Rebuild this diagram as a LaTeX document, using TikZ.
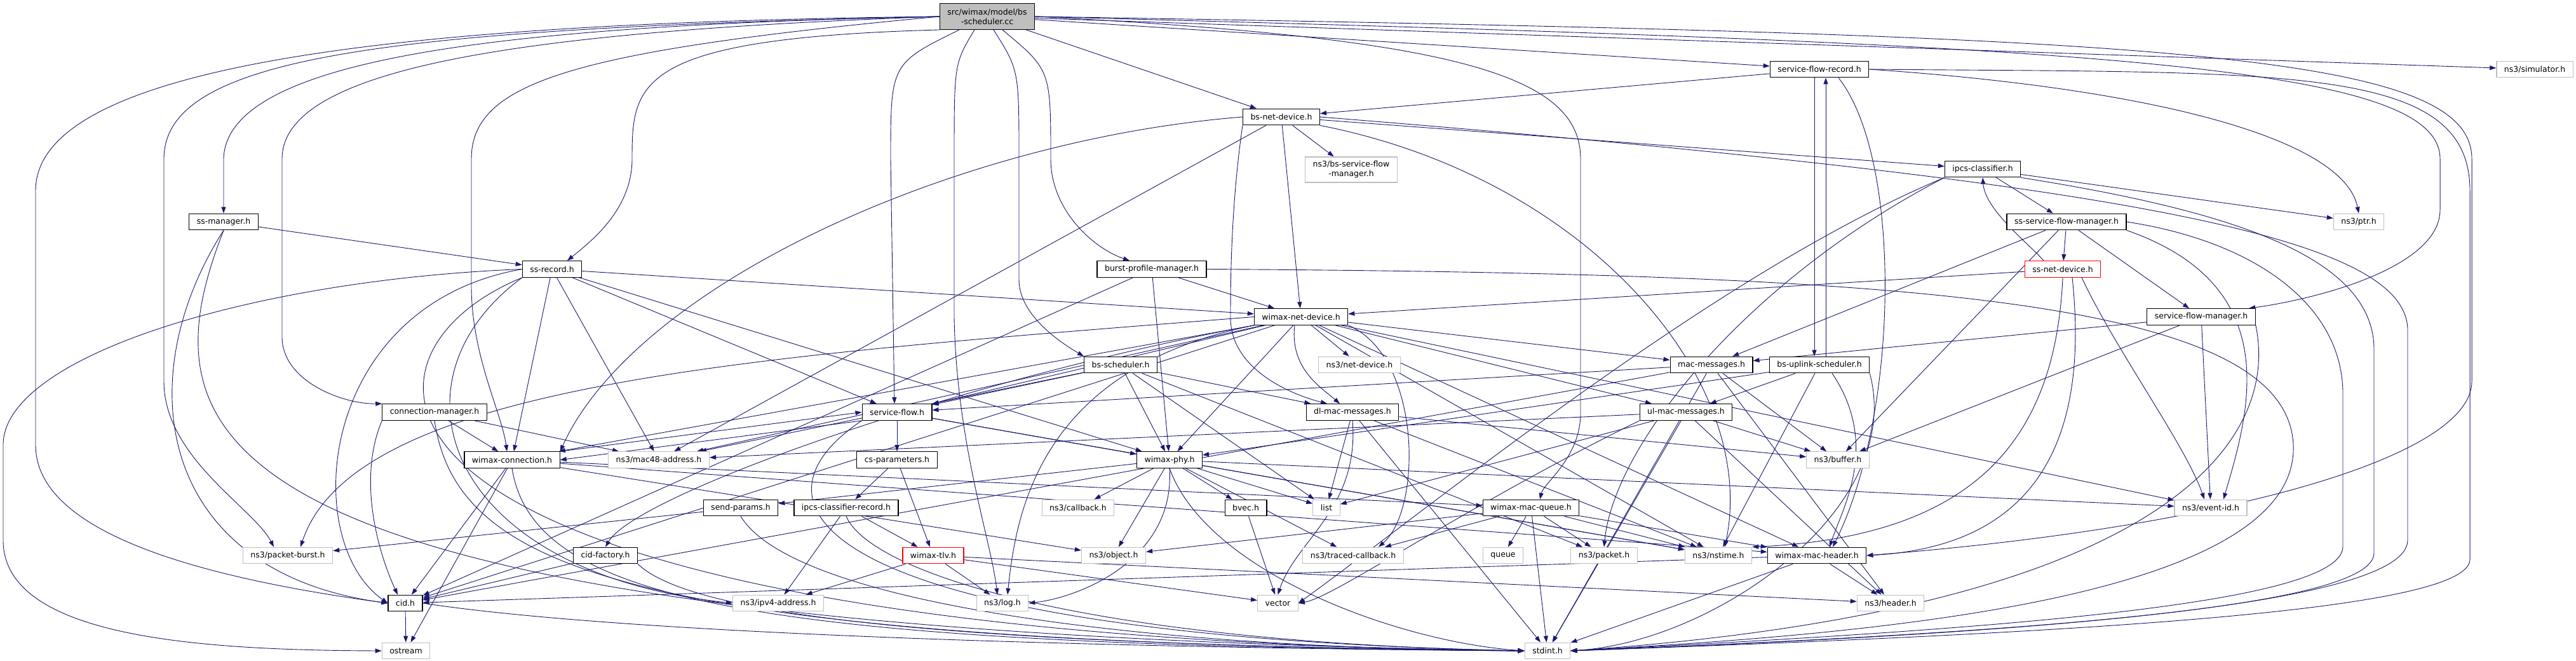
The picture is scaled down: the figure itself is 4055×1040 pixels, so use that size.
\documentclass[tikz,border=0pt]{standalone}
\usepackage{fontspec}
\setmainfont{DejaVu Sans}
\usetikzlibrary{arrows.meta,backgrounds}
\definecolor{edgeblue}{HTML}{191970}
\definecolor{extgray}{HTML}{BFBFBF}
\tikzset{
  file/.style={draw=black, line width=1.2pt, fill=white, font=\fontsize{12.5}{15}\selectfont,
    inner xsep=12pt, inner ysep=0pt, minimum height=25.6pt},
  extfile/.style={file, draw=extgray},
  truncfile/.style={file, draw=red},
  rootfile/.style={file, fill=extgray, align=center, minimum height=40.7pt},
  dep/.style={draw=edgeblue, line width=0.9pt, -{Triangle[length=10pt,width=7pt]}},
}
\begin{document}
\begin{tikzpicture}[x=1pt,y=-1pt]
        \useasboundingbox (0,0) rectangle (4055,1040);

        % nodes
        \node (root) [rootfile] at (1554,26) {src/wimax/model/bs\\-scheduler.cc};
        \node (sfrec) [file] at (2864,109) {service-flow-record.h};
        \node (sim) [extfile] at (3990,109) {ns3/simulator.h};
        \node (bsnd) [file] at (2017,184) {bs-net-device.h};
        \node (bssfm) [extfile, align=center, minimum height=40pt] at (2127,267) {ns3/bs-service-flow\\-manager.h};
        \node (ipcs) [file] at (3121,266) {ipcs-classifier.h};
        \node (ssmgr) [file] at (352,349) {ss-manager.h};
        \node (sssfm) [file] at (3253,349) {ss-service-flow-manager.h};
        \node (ptr) [extfile] at (3713,349) {ns3/ptr.h};
        \node (ssrec) [file] at (869,423.5) {ss-record.h};
        \node (bpm) [file] at (1813,423.5) {burst-profile-manager.h};
        \node (ssnd) [truncfile] at (3247,423.5) {ss-net-device.h};
        \node (wnd) [file] at (2048,498.5) {wimax-net-device.h};
        \node (sfmgr) [file] at (3465,498.5) {service-flow-manager.h};
        \node (bsched) [file] at (1764,574) {bs-scheduler.h};
        \node (nd) [extfile] at (2140,574) {ns3/net-device.h};
        \node (macmsg) [file] at (2694,574) {mac-messages.h};
        \node (bsup) [file] at (2864,574) {bs-uplink-scheduler.h};
        \node (conmgr) [file] at (684,648.5) {connection-manager.h};
        \node (sflow) [file] at (1412,648.5) {service-flow.h};
        \node (dlmac) [file] at (2129,648.5) {dl-mac-messages.h};
        \node (ulmac) [file] at (2654,648.5) {ul-mac-messages.h};
        \node (wcon) [file] at (806,723.6) {wimax-connection.h};
        \node (mac48) [extfile] at (1037,723.6) {ns3/mac48-address.h};
        \node (cspar) [file] at (1412,723.6) {cs-parameters.h};
        \node (wphy) [file] at (1841,723.6) {wimax-phy.h};
        \node (buffer) [extfile] at (2893,723.6) {ns3/buffer.h};
        \node (sendp) [file] at (1166,799) {send-params.h};
        \node (ipcscr) [file] at (1332,799) {ipcs-classifier-record.h};
        \node (callback) [extfile] at (1697,799) {ns3/callback.h};
        \node (bvec) [file] at (1961,799) {bvec.h};
        \node (list) [extfile] at (2088,799) {list};
        \node (wmq) [file] at (2410,799) {wimax-mac-queue.h};
        \node (eventid) [extfile] at (3480,799) {ns3/event-id.h};
        \node (pburst) [extfile] at (453,874) {ns3/packet-burst.h};
        \node (cidf) [file] at (953,874) {cid-factory.h};
        \node (wtlv) [truncfile] at (1469,874) {wimax-tlv.h};
        \node (object) [extfile] at (1753,874) {ns3/object.h};
        \node (tracedcb) [extfile] at (2130,874) {ns3/traced-callback.h};
        \node (queue) [extfile] at (2366,874) {queue};
        \node (packet) [extfile] at (2525,874) {ns3/packet.h};
        \node (nstime) [extfile] at (2705,874) {ns3/nstime.h};
        \node (wmh) [file] at (2860,874) {wimax-mac-header.h};
        \node (cid) [file] at (638,949) {cid.h};
        \node (ipv4) [extfile] at (1225,949) {ns3/ipv4-address.h};
        \node (log) [extfile] at (1578,949) {ns3/log.h};
        \node (vector) [extfile] at (2011.5,949) {vector};
        \node (header) [extfile] at (2976,949) {ns3/header.h};
        \node (ostream) [extfile] at (639,1024) {ostream};
        \node (stdint) [extfile] at (2436,1024) {stdint.h};

        \begin{pgfonlayer}{background}
        \fill[white] (0,0) rectangle (4055,1040);

        % edges from the source file
        \draw[dep] (root.west) .. controls (700,35) and (56,90) .. (56,300) -- (56,700) .. controls (56,820) and (250,900) .. (cid.west);
        \draw[dep] (root.west) .. controls (600,45) and (258,90) .. (258,250) -- (258,600) .. controls (258,720) and (400,800) .. ([xshift=-22pt]pburst.north);
        \draw[dep] (root.west) .. controls (800,40) and (356,90) .. (352,250) -- (ssmgr.north);
        \draw[dep] (root.west) .. controls (800,50) and (444,110) .. (444,250) -- (444,530) .. controls (444,600) and (540,636) .. (conmgr.north west);
        \draw[dep] (root.west) .. controls (900,80) and (742,130) .. (742,250) -- (742,450) .. controls (742,560) and (790,650) .. ([xshift=-8pt]wcon.north);
        \draw[dep] (root.south west) .. controls (1000,60) and (995,130) .. (995,250) .. controls (995,330) and (930,380) .. ([xshift=24pt]ssrec.north);
        \draw[dep] ([xshift=-44pt]root.south) .. controls (1402,100) .. (1402,250) -- ([xshift=-4pt]sflow.north);
        \draw[dep] ([xshift=-20pt]root.south) .. controls (1502,100) .. (1502,250) -- (1502,500) .. controls (1506,700) and (1560,850) .. ([xshift=-8pt]log.north);
        \draw[dep] ([xshift=10pt]root.south) .. controls (1604,110) .. (1604,250) -- (1604,440) .. controls (1604,500) and (1680,545) .. (bsched.north west);
        \draw[dep] ([xshift=24pt]root.south) .. controls (1654,110) .. (1654,250) .. controls (1654,330) and (1720,390) .. ([xshift=-35pt]bpm.north);
        \draw[dep] (root) -- (bsnd);
        \draw[dep] (root) -- (sfrec);
        \draw[dep] (root) -- (sim);
        \draw[dep] (root.east) .. controls (2300,60) and (2488,120) .. (2488,250) -- (2488,650) .. controls (2488,720) and (2430,760) .. ([xshift=14pt]wmq.north);
        \draw[dep] (root.east) .. controls (3300,70) and (3841,100) .. (3841,250) -- (3841,330) .. controls (3841,420) and (3650,470) .. ([xshift=75pt]sfmgr.north);
        \draw[dep] (root.east) .. controls (3400,55) and (3891,80) .. (3891,250) -- (3891,600) .. controls (3891,720) and (3500,830) .. (wmh.east);

        % upper headers
        \draw[dep] (sfrec) -- (bsnd);
        \draw[dep] ([xshift=-8pt]sfrec.south) -- ([xshift=-8pt]bsup.north);
        \draw[dep] ([xshift=10pt]bsup.north) -- ([xshift=10pt]sfrec.south);
        \draw[dep] ([xshift=30pt]sfrec.south) .. controls (2995,250) and (2990,650) .. ([xshift=25pt]wmh.north);
        \draw[dep] (sfrec.east) .. controls (3400,140) and (3690,220) .. (ptr.north);
        \draw[dep] (sfrec.east) .. controls (3600,115) and (3888,100) .. (3888,300) -- (3888,880) .. controls (3888,960) and (3300,995) .. (stdint.east);

        \draw[dep] (bsnd) -- (wnd);
        \draw[dep] (bsnd) -- (bssfm);
        \draw[dep] (bsnd) -- (ipcs);
        \draw[dep] (bsnd.south west) .. controls (1937,330) and (1937,450) .. (1937,500) .. controls (1937,580) and (2030,620) .. ([xshift=-40pt]dlmac.north);
        \draw[dep] (bsnd.south east) .. controls (2500,280) and (2770,600) .. ([xshift=10pt]nstime.north);
        \draw[dep] (bsnd) -- (mac48);
        \draw[dep] (bsnd.west) .. controls (1500,220) and (1000,450) .. (wcon.north east);
        \draw[dep] (bsnd.east) .. controls (3400,290) and (3790,380) .. (3790,520) -- (3790,850) .. controls (3790,960) and (3100,1000) .. (stdint.east);

        \draw[dep] (ipcs) -- (ptr);
        \draw[dep] (ipcs) -- (sssfm);
        \draw[dep] (ipcs.south west) .. controls (2700,430) and (2250,800) .. (vector.east);
        \draw[dep] (ipcs.south west) .. controls (2750,440) and (2540,700) .. (packet.north);
        \draw[dep] (ipcs.south east) .. controls (3500,330) and (3737,400) .. (3737,550) -- (3737,870) .. controls (3737,955) and (3200,995) .. (stdint.east);

        \draw[dep] (sssfm) -- (ssnd);
        \draw[dep] (sssfm) -- (sfmgr);
        \draw[dep] (sssfm) -- (macmsg);
        \draw[dep] (sssfm) -- (buffer);
        \draw[dep] (sssfm.south east) .. controls (3600,450) and (3540,650) .. ([xshift=20pt]eventid.north);
        \draw[dep] (sssfm.east) .. controls (3550,380) and (3688,480) .. (3688,620) -- (3688,860) .. controls (3688,950) and (3150,990) .. (stdint.east);

        \draw[dep] ([xshift=-30pt]ssnd.north) .. controls (3190,380) and (3125,330) .. (ipcs.south);
        \draw[dep] (ssnd) -- (wnd);
        \draw[dep] ([xshift=30pt]ssnd.south) .. controls (3330,550) and (3440,700) .. ([xshift=-10pt]eventid.north);
        \draw[dep] (ssnd.south) .. controls (3235,700) and (3100,845) .. (nstime.north east);
        \draw[dep] ([xshift=15pt]ssnd.south) .. controls (3290,700) and (3200,860) .. (wmh.east);

        \draw[dep] (sfmgr) -- (macmsg);
        \draw[dep] (sfmgr) -- (buffer);
        \draw[dep] (sfmgr) -- (eventid);
        \draw[dep] (sfmgr.south east) .. controls (3590,700) and (3400,960) .. (stdint.east);

        \draw[dep] (ssmgr) -- (ssrec);
        \draw[dep] (ssmgr.south) .. controls (200,600) and (250,900) .. (cid.west);
        \draw[dep] (ssmgr.south) .. controls (220,700) and (300,990) .. (stdint.west);

        \draw[dep] (ssrec) -- (wnd);
        \draw[dep] (ssrec.west) .. controls (400,440) and (5,560) .. (5,700) -- (5,850) .. controls (5,1000) and (300,1023) .. (ostream.west);
        \draw[dep] (ssrec.west) .. controls (500,480) and (470,850) .. (cid.west);
        \draw[dep] (ssrec.south west) .. controls (520,560) and (480,1000) .. (stdint.west);
        \draw[dep] (ssrec) -- (wcon);
        \draw[dep] (ssrec) -- (mac48);
        \draw[dep] (ssrec) -- (sflow);
        \draw[dep] (ssrec) -- (wphy);
        \draw[dep] (ssrec.south west) .. controls (600,600) and (700,900) .. (ipv4.west);

        \draw[dep] (bpm) -- (wnd);
        \draw[dep] (bpm) -- (wphy);
        \draw[dep] (bpm) -- (cid);
        \draw[dep] (bpm.east) .. controls (3000,430) and (3600,470) .. (3610,700) .. controls (3620,950) and (2900,1000) .. (stdint.east);

        % middle headers
        \draw[dep] (wnd) -- (nd);
        \draw[dep] ([xshift=-10pt]wnd.south) .. controls (2030,580) and (2080,610) .. ([xshift=-20pt]dlmac.north);
        \draw[dep] (wnd) -- (ulmac);
        \draw[dep] (wnd) -- (macmsg);
        \draw[dep] (wnd) -- (wphy);
        \draw[dep] (wnd) -- (wcon);
        \draw[dep] (wnd) -- (mac48);
        \draw[dep] (wnd) -- (sflow);
        \draw[dep] (wnd) -- (cid);
        \draw[dep] (wnd.south west) .. controls (1500,600) and (1000,780) .. (cidf.north);
        \draw[dep] (wnd.west) .. controls (1200,560) and (560,600) .. ([xshift=20pt]pburst.north);
        \draw[dep] (wnd.south west) .. controls (1640,580) and (1600,800) .. ([xshift=8pt]log.north);
        \draw[dep] (wnd.south east) .. controls (2237,560) and (2240,800) .. ([xshift=40pt]tracedcb.north);
        \draw[dep] (wnd) -- (nstime);
        \draw[dep] (wnd) -- (eventid);
        \draw[dep] (wnd) -- (wmh);

        \draw[dep] (bsched) -- (wphy);
        \draw[dep] (bsched) -- (sflow);
        \draw[dep] (bsched) -- (dlmac);
        \draw[dep] (bsched) -- (list);
        \draw[dep] (bsched) -- (packet);
        \draw[dep] (bsched) -- (mac48);

        \draw[dep] (macmsg) -- (sflow);
        \draw[dep] (macmsg) -- (buffer);
        \draw[dep] (macmsg) -- (header);
        \draw[dep] (macmsg) -- (stdint);
        \draw[dep] (macmsg) -- (cid);

        \draw[dep] (bsup) -- (ulmac);
        \draw[dep] (bsup) -- (wphy);
        \draw[dep] ([xshift=20pt]bsup.south) .. controls (2960,700) and (2900,800) .. ([xshift=20pt]wmh.north);
        \draw[dep] (bsup) -- (nstime);
        \draw[dep] (bsup.south east) .. controls (3000,800) and (2700,1010) .. (stdint.east);

        \draw[dep] (conmgr) -- (wcon);
        \draw[dep] (conmgr.south west) .. controls (560,760) and (600,880) .. ([xshift=-12pt]cid.north);
        \draw[dep] (conmgr.south) .. controls (720,900) and (1000,1010) .. (stdint.west);
        \draw[dep] (conmgr) -- (mac48);

        \draw[dep] (sflow.south west) -- (wcon.east);
        \draw[dep] (sflow) -- (cspar);
        \draw[dep] (sflow) -- (wphy);
        \draw[dep] (sflow.south west) .. controls (1150,800) and (1300,1000) .. (stdint.west);
        \draw[dep] (sflow) -- (nstime);

        \draw[dep] (dlmac) -- (list);
        \draw[dep] (dlmac.south) .. controls (2140,800) and (2040,850) .. (vector.north);
        \draw[dep] (dlmac) -- (stdint);
        \draw[dep] (dlmac) -- (buffer);
        \draw[dep] (dlmac) -- (nstime);

        \draw[dep] (ulmac) -- (list);
        \draw[dep] (ulmac.south west) .. controls (2300,800) and (2100,940) .. (vector.east);
        \draw[dep] (ulmac) -- (stdint);
        \draw[dep] (ulmac) -- (buffer);
        \draw[dep] (ulmac) -- (header);
        \draw[dep] (ulmac) -- (mac48);

        % lower headers
        \draw[dep] (wcon) -- (cid);
        \draw[dep] (wcon) -- (ostream);
        \draw[dep] (wcon.south) .. controls (840,950) and (1200,1015) .. (stdint.west);
        \draw[dep] (wcon) -- (wmq);
        \draw[dep] (wcon) -- (object);
        \draw[dep] (wcon.north east) -- (sflow.west);
        \draw[dep] (wcon) -- (wmh);

        \draw[dep] (cspar) -- (ipcscr);
        \draw[dep] (cspar) -- (wtlv);
        \draw[dep] (ipcscr) -- (ipv4);
        \draw[dep] (ipcscr) -- (wtlv);
        \draw[dep] (ipcscr.south) .. controls (1370,900) and (1700,1010) .. (stdint.west);
        \draw[dep] (wtlv) -- (ipv4);
        \draw[dep] (wtlv) -- (log);
        \draw[dep] (wtlv) -- (vector);
        \draw[dep] (wtlv) -- (header);

        \draw[dep] (wphy.south) .. controls (1900,900) and (2200,1010) .. (stdint.west);
        \draw[dep] (wphy) -- (list);
        \draw[dep] (wphy) -- (callback);
        \draw[dep] (wphy) -- (nstime);
        \draw[dep] (wphy) -- (eventid);
        \draw[dep] (wphy) -- (bvec);
        \draw[dep] (wphy) -- (sendp);
        \draw[dep] (wphy.south) .. controls (1850,880) and (1700,940) .. (log.east);
        \draw[dep] (wphy) -- (object);
        \draw[dep] (wphy) -- (tracedcb);

        \draw[dep] (sendp) -- (pburst);
        \draw[dep] (sendp.south) .. controls (1250,950) and (1800,1020) .. (stdint.west);
        \draw[dep] (bvec) -- (vector);
        \draw[dep] (cidf) -- (cid);
        \draw[dep] (cidf.south east) .. controls (1100,980) and (1600,1015) .. (stdint.west);
        \draw[dep] (cid) -- (ostream);
        \draw[dep] (cid.east) .. controls (1000,1000) and (1800,1020) .. (stdint.west);

        \draw[dep] (wmq) -- (object);
        \draw[dep] (wmq) -- (tracedcb);
        \draw[dep] (wmq) -- (queue);
        \draw[dep] (wmq) -- (packet);
        \draw[dep] (wmq) -- (nstime);
        \draw[dep] (wmq) -- (wmh);
        \draw[dep] (wmq) -- (stdint);

        \draw[dep] (wmh) -- (cid);
        \draw[dep] (wmh) -- (header);
        \draw[dep] (wmh) -- (stdint);
        \end{pgfonlayer}
    \end{tikzpicture}
\end{document}
